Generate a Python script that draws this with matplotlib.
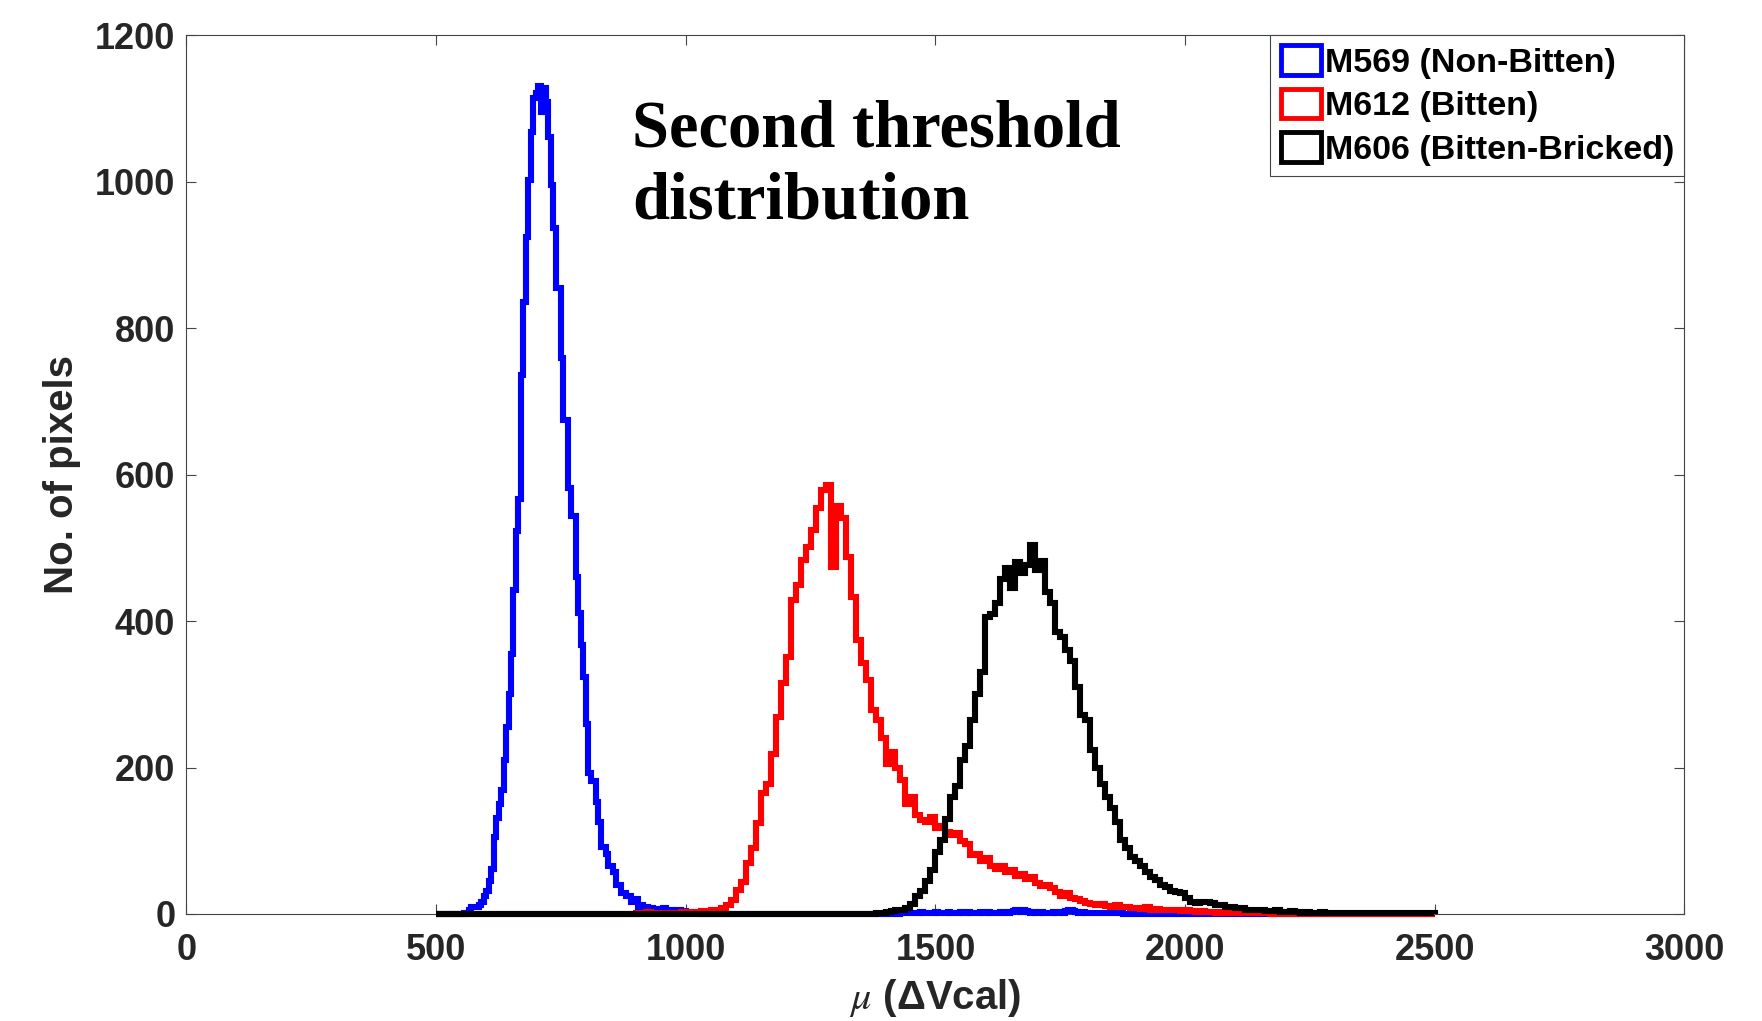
import numpy as np
import matplotlib
matplotlib.use("Agg")
import matplotlib.pyplot as plt
from matplotlib.patches import Rectangle

plt.rcParams['font.family'] = ['Liberation Sans', 'DejaVu Sans']
plt.rcParams['mathtext.fontset'] = 'stix'

# ---- data ----
labels = ['M569 (Non-Bitten)', 'M612 (Bitten)', 'M606 (Bitten-Bricked)']
colors = ['#0000ff', '#ff0000', '#000000']
x_lo, x_hi = 500, 2500

# M569: bin width 5, main peak starting at 555
blue_width = 5
blue_start = 555
blue_counts = [1, 2, 5, 10, 10, 10, 12, 17, 24, 31, 45, 61, 105, 131, 150, 169, 210,
               255, 301, 355, 443, 523, 567, 736, 835, 924, 1002, 1068, 1114, 1121,
               1130, 1095, 1128, 1109, 1061, 995, 936, 855, 855, 759, 674, 674, 582,
               543, 543, 460, 411, 367, 324, 260, 192, 182, 182, 153, 126, 92, 92, 82,
               65, 65, 58, 39, 39, 29, 29, 24, 24, 17, 17, 20, 10, 12, 8, 10, 6, 8, 6,
               7, 5, 6, 8, 4, 5, 3, 4, 6, 5, 3, 4, 2, 3, 2, 1, 2, 1]
# small M569 counts far out in the tail
blue_tail_start = 1430
blue_tail = [1, 1, 2, 1, 2, 2, 1, 2, 3, 2, 2, 1, 2, 2, 3, 2, 1, 2, 2, 3, 2, 2, 1, 2,
             3, 2, 2, 3, 2, 1, 2, 2, 3, 2, 2, 3, 2, 2, 1, 2, 3, 3, 2, 2, 3, 4, 5, 4,
             3, 5, 4, 3, 2, 3, 2, 2, 3, 2, 1, 2, 2, 3, 2, 2, 3, 2, 4, 5, 6, 4, 3, 2,
             2, 3, 2, 2, 1, 2, 1, 1, 2, 1, 1, 1, 2, 1, 1, 1, 1]

# M612: bin width 10, starting at 900
red_width = 10
red_start = 900
red_counts = [1, 2, 3, 2, 1, 1, 2, 1, 2, 3, 2, 3, 3, 4, 4, 5, 6, 8, 12, 19, 33, 44,
              69, 90, 124, 165, 178, 219, 269, 315, 351, 429, 449, 483, 501, 524, 554,
              579, 586, 474, 557, 540, 488, 433, 374, 343, 320, 278, 265, 240, 205,
              221, 200, 183, 150, 160, 135, 128, 125, 132, 118, 120, 112, 108, 110,
              100, 95, 80, 82, 72, 76, 66, 62, 65, 58, 60, 52, 55, 48, 50, 42, 38, 40,
              35, 30, 25, 28, 22, 20, 18, 15, 14, 12, 13, 11, 10, 12, 9, 10, 8, 8, 7,
              9, 6, 7, 6, 5, 6, 5, 4, 5, 4, 3, 4, 3, 3, 2, 3, 2, 2, 2, 1, 2, 1, 1, 1, 1]

# M606: bin width 10, starting at 1380
black_width = 10
black_start = 1380
black_counts = [1, 2, 3, 4, 5, 6, 8, 14, 24, 32, 45, 60, 85, 101, 130, 160, 175, 210,
                230, 265, 300, 330, 405, 410, 424, 458, 472, 445, 481, 466, 476, 504,
                470, 482, 440, 425, 385, 378, 360, 345, 310, 272, 265, 224, 200, 178,
                160, 145, 125, 101, 90, 78, 72, 65, 58, 50, 46, 40, 37, 32, 30, 28, 22,
                17, 15, 16, 17, 15, 12, 12, 10, 9, 8, 8, 6, 6, 5, 5, 4, 4, 5, 3, 3, 4,
                3, 2, 3, 2, 2, 3, 2, 2, 2, 1, 2, 1, 1, 2, 1, 1, 1, 2, 1, 1, 1, 1, 2, 1,
                1, 2, 2, 2]

x_ticks = [0, 500, 1000, 1500, 2000, 2500, 3000]
y_ticks = [0, 200, 400, 600, 800, 1000, 1200]


def full_hist(width, pieces):
    edges = np.arange(x_lo, x_hi + width, width)
    counts = np.zeros(len(edges) - 1)
    for start, vals in pieces:
        i0 = (start - x_lo) // width
        counts[i0:i0 + len(vals)] = vals
    return counts, edges


series = [
    full_hist(blue_width, [(blue_start, blue_counts), (blue_tail_start, blue_tail)]),
    full_hist(red_width, [(red_start, red_counts)]),
    full_hist(black_width, [(black_start, black_counts)]),
]

fig = plt.figure(figsize=(17.62, 10.21), dpi=100)
ax = fig.add_axes([0.1058, 0.1048, 0.8502, 0.8609])

for (counts, edges), c in zip(series, colors):
    ax.stairs(counts, edges, color=c, linewidth=4.4, baseline=0, clip_on=False,
              zorder=3)

ax.set_xlim(0, 3000)
ax.set_ylim(0, 1200)
ax.set_xticks(x_ticks)
ax.set_yticks(y_ticks)

tick_col = '#262626'
for sp in ax.spines.values():
    sp.set_color('#444444')
    sp.set_linewidth(0.8)
ax.tick_params(direction='in', length=7, width=0.8, color='#444444',
               top=True, right=True, labelsize=26, labelcolor=tick_col)
ax.tick_params(axis='x', pad=14)
ax.tick_params(axis='y', pad=8)
for lab in ax.get_xticklabels() + ax.get_yticklabels():
    lab.set_fontweight('bold')

ax.set_xlabel(r'$\mu$ (ΔVcal)', fontsize=29, fontweight='bold', color=tick_col,
              labelpad=6)
ax.set_ylabel('No. of pixels', fontsize=29, fontweight='bold', color=tick_col,
              labelpad=10)

ax.text(892, 1048, 'Second threshold', fontsize=48, fontweight='bold',
        family=['Liberation Serif', 'DejaVu Serif'], va='baseline', ha='left')
ax.text(892, 949, 'distribution', fontsize=48, fontweight='bold',
        family=['Liberation Serif', 'DejaVu Serif'], va='baseline', ha='left')

# MATLAB-style legend: hollow boxes for the stairs histograms
handles = [Rectangle((0, 0), 1, 1, facecolor='white', edgecolor=c, linewidth=3.5)
           for c in colors]
leg = ax.legend(handles, labels, loc='upper right', borderaxespad=0,
                fancybox=False, framealpha=1, edgecolor='#444444',
                prop={'size': 24.5, 'weight': 'bold'}, handlelength=1.2,
                handleheight=0.95, handletextpad=0.1, labelspacing=0.3,
                borderpad=0.3)
leg.get_frame().set_linewidth(0.8)

fig.savefig('out.png', dpi=100)
